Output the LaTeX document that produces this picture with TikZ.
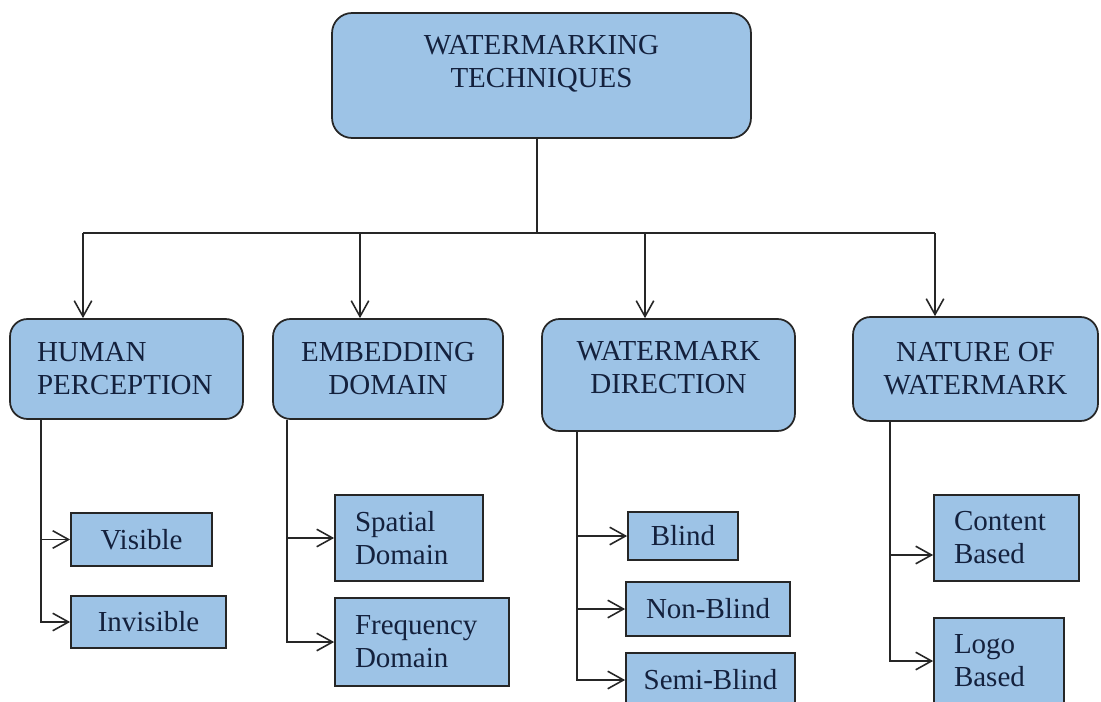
\documentclass[tikz,border=0pt]{standalone}
\usepackage{fontspec}
\setmainfont{Liberation Serif}
\usetikzlibrary{arrows.meta}
\definecolor{boxblue}{HTML}{9DC3E6}
\definecolor{inkblue}{HTML}{14213D}

\begin{document}
\begin{tikzpicture}[x=0.02cm, y=-0.02cm,
    head/.style={draw=black!85, line width=1pt, fill=boxblue, rounded corners=0.35cm, text=inkblue, align=center, inner sep=2pt, font=\fontsize{16.5}{18.8}\selectfont},
    leaf/.style={draw=black!85, line width=1pt, fill=boxblue, text=inkblue, align=center, inner sep=2pt, font=\fontsize{16.5}{18.8}\selectfont},
    link/.style={line width=0.9pt, black!85},
    flow/.style={link, -{Straight Barb[length=9pt,width=10pt]}}]
    \useasboundingbox (0,0) rectangle (1101,702);
    \clip (0,0) rectangle (1101,702);

    % Root and the four families
    \node[head, minimum width=8.38cm, minimum height=2.5cm, rounded corners=0.4cm] (top) at (541.5,75.5) {WATERMARKING\\TECHNIQUES\rule[-16pt]{0pt}{0pt}};
    \node[head, minimum width=4.66cm, minimum height=2cm, align=left, text width=3.58cm] (hum) at (126.5,369) {HUMAN\\PERCEPTION};
    \node[head, minimum width=4.6cm, minimum height=2cm] (emb) at (388,369) {EMBEDDING\\DOMAIN};
    \node[head, minimum width=5.06cm, minimum height=2.24cm] (dir) at (668.5,375) {WATERMARK\\DIRECTION\rule[-9pt]{0pt}{0pt}};
    \node[head, minimum width=4.9cm, minimum height=2.08cm] (nat) at (975.5,369) {NATURE OF\\WATERMARK};

    % Leaves
    \node[leaf, minimum width=2.82cm, minimum height=1.06cm] (vis) at (141.5,539.5) {Visible};
    \node[leaf, minimum width=3.1cm, minimum height=1.04cm] (inv) at (148.5,622) {Invisible};
    \node[leaf, minimum width=2.96cm, minimum height=1.72cm, align=left, text width=2.16cm] (spa) at (409,538) {Spatial\\Domain};
    \node[leaf, minimum width=3.48cm, minimum height=1.76cm, align=left, text width=2.68cm] (fre) at (422,642) {Frequency\\Domain};
    \node[leaf, minimum width=2.2cm, minimum height=0.96cm] (bli) at (683,536) {Blind};
    \node[leaf, minimum width=3.28cm, minimum height=1.08cm] (nbl) at (708,609) {Non-Blind};
    \node[leaf, minimum width=3.38cm, minimum height=1.08cm] (sbl) at (710.5,680) {Semi-Blind};
    \node[leaf, minimum width=2.9cm, minimum height=1.72cm, align=left, text width=2.1cm] (con) at (1006.5,538) {Content\\Based};
    \node[leaf, minimum width=2.6cm, minimum height=1.72cm, align=left, text width=1.8cm] (logo) at (999,661) {Logo\\Based};

    % Bus from the root
    \coordinate (split) at (537,233);
    \coordinate (b1) at (83,233);
    \coordinate (b2) at (360,233);
    \coordinate (b3) at (645,233);
    \coordinate (b4) at (935,233);
    \draw[link] (top.south -| split) -- (split);
    \draw[link] (b1) -- (b4);
    \foreach \b/\n in {b1/hum, b2/emb, b3/dir, b4/nat}
        \draw[flow] (\b) -- (\b |- \n.north);

    % Branches to the leaves
    \coordinate (hx) at ([xshift=0.64cm]hum.south west);
    \coordinate (ex) at ([xshift=0.3cm]emb.south west);
    \coordinate (dx) at ([xshift=0.72cm]dir.south west);
    \coordinate (nx) at ([xshift=0.76cm]nat.south west);
    \draw[flow] (hx) |- (vis.west);
    \draw[flow] (hx) |- (inv.west);
    \draw[flow] (ex) |- (spa.west);
    \draw[flow] (ex) |- (fre.west);
    \draw[flow] (dx) |- (bli.west);
    \draw[flow] (dx) |- (nbl.west);
    \draw[flow] (dx) |- (sbl.west);
    \draw[flow] (nx) |- ([yshift=-0.34cm]con.west);
    \draw[flow] (nx) |- (logo.west);
\end{tikzpicture}
\end{document}
